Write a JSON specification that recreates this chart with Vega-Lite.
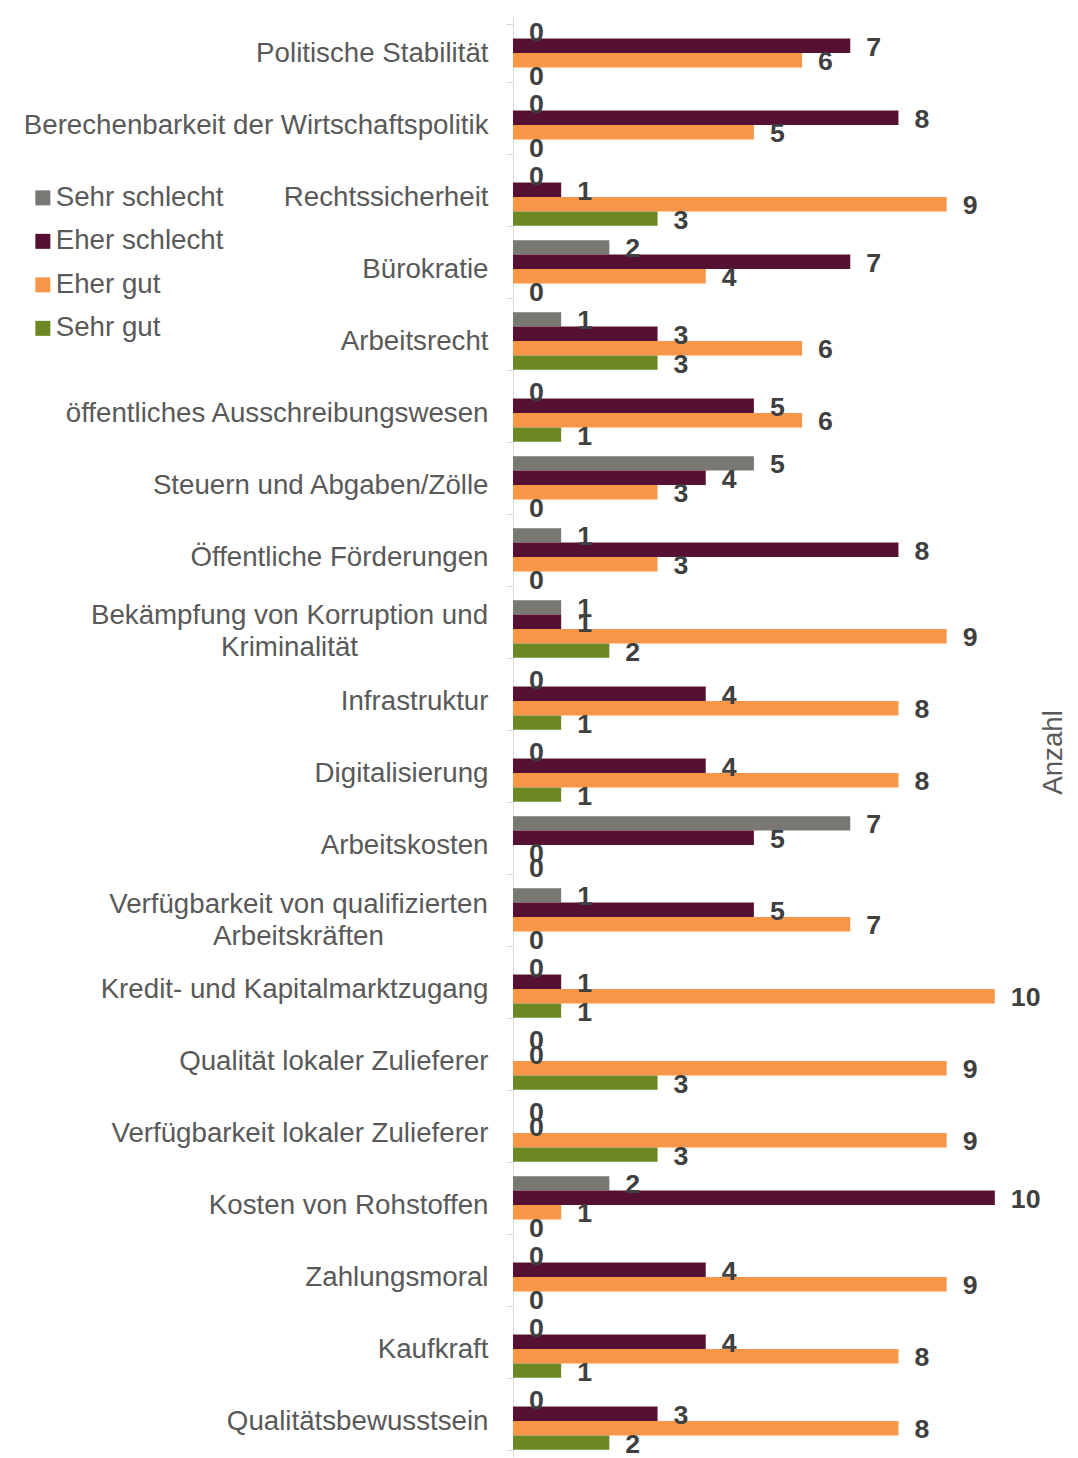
{
  "$schema": "https://vega.github.io/schema/vega-lite/v6.json",
  "width": 530,
  "height": 1440,
  "autosize": {"type": "none"},
  "padding": {"left": 513, "top": 17, "right": 35, "bottom": 1},
  "background": "white",
  "config": {"view": {"stroke": null}, "font": "Liberation Sans"},
  "datasets": {
    "werte": [
      {"Kategorie": "Politische Stabilität", "Bewertung": "Sehr schlecht", "Anzahl": 0},
      {"Kategorie": "Politische Stabilität", "Bewertung": "Eher schlecht", "Anzahl": 7},
      {"Kategorie": "Politische Stabilität", "Bewertung": "Eher gut", "Anzahl": 6},
      {"Kategorie": "Politische Stabilität", "Bewertung": "Sehr gut", "Anzahl": 0},
      {"Kategorie": "Berechenbarkeit der Wirtschaftspolitik", "Bewertung": "Sehr schlecht", "Anzahl": 0},
      {"Kategorie": "Berechenbarkeit der Wirtschaftspolitik", "Bewertung": "Eher schlecht", "Anzahl": 8},
      {"Kategorie": "Berechenbarkeit der Wirtschaftspolitik", "Bewertung": "Eher gut", "Anzahl": 5},
      {"Kategorie": "Berechenbarkeit der Wirtschaftspolitik", "Bewertung": "Sehr gut", "Anzahl": 0},
      {"Kategorie": "Rechtssicherheit", "Bewertung": "Sehr schlecht", "Anzahl": 0},
      {"Kategorie": "Rechtssicherheit", "Bewertung": "Eher schlecht", "Anzahl": 1},
      {"Kategorie": "Rechtssicherheit", "Bewertung": "Eher gut", "Anzahl": 9},
      {"Kategorie": "Rechtssicherheit", "Bewertung": "Sehr gut", "Anzahl": 3},
      {"Kategorie": "Bürokratie", "Bewertung": "Sehr schlecht", "Anzahl": 2},
      {"Kategorie": "Bürokratie", "Bewertung": "Eher schlecht", "Anzahl": 7},
      {"Kategorie": "Bürokratie", "Bewertung": "Eher gut", "Anzahl": 4},
      {"Kategorie": "Bürokratie", "Bewertung": "Sehr gut", "Anzahl": 0},
      {"Kategorie": "Arbeitsrecht", "Bewertung": "Sehr schlecht", "Anzahl": 1},
      {"Kategorie": "Arbeitsrecht", "Bewertung": "Eher schlecht", "Anzahl": 3},
      {"Kategorie": "Arbeitsrecht", "Bewertung": "Eher gut", "Anzahl": 6},
      {"Kategorie": "Arbeitsrecht", "Bewertung": "Sehr gut", "Anzahl": 3},
      {"Kategorie": "öffentliches Ausschreibungswesen", "Bewertung": "Sehr schlecht", "Anzahl": 0},
      {"Kategorie": "öffentliches Ausschreibungswesen", "Bewertung": "Eher schlecht", "Anzahl": 5},
      {"Kategorie": "öffentliches Ausschreibungswesen", "Bewertung": "Eher gut", "Anzahl": 6},
      {"Kategorie": "öffentliches Ausschreibungswesen", "Bewertung": "Sehr gut", "Anzahl": 1},
      {"Kategorie": "Steuern und Abgaben/Zölle", "Bewertung": "Sehr schlecht", "Anzahl": 5},
      {"Kategorie": "Steuern und Abgaben/Zölle", "Bewertung": "Eher schlecht", "Anzahl": 4},
      {"Kategorie": "Steuern und Abgaben/Zölle", "Bewertung": "Eher gut", "Anzahl": 3},
      {"Kategorie": "Steuern und Abgaben/Zölle", "Bewertung": "Sehr gut", "Anzahl": 0},
      {"Kategorie": "Öffentliche Förderungen", "Bewertung": "Sehr schlecht", "Anzahl": 1},
      {"Kategorie": "Öffentliche Förderungen", "Bewertung": "Eher schlecht", "Anzahl": 8},
      {"Kategorie": "Öffentliche Förderungen", "Bewertung": "Eher gut", "Anzahl": 3},
      {"Kategorie": "Öffentliche Förderungen", "Bewertung": "Sehr gut", "Anzahl": 0},
      {"Kategorie": "Bekämpfung von Korruption und Kriminalität", "Bewertung": "Sehr schlecht", "Anzahl": 1},
      {"Kategorie": "Bekämpfung von Korruption und Kriminalität", "Bewertung": "Eher schlecht", "Anzahl": 1},
      {"Kategorie": "Bekämpfung von Korruption und Kriminalität", "Bewertung": "Eher gut", "Anzahl": 9},
      {"Kategorie": "Bekämpfung von Korruption und Kriminalität", "Bewertung": "Sehr gut", "Anzahl": 2},
      {"Kategorie": "Infrastruktur", "Bewertung": "Sehr schlecht", "Anzahl": 0},
      {"Kategorie": "Infrastruktur", "Bewertung": "Eher schlecht", "Anzahl": 4},
      {"Kategorie": "Infrastruktur", "Bewertung": "Eher gut", "Anzahl": 8},
      {"Kategorie": "Infrastruktur", "Bewertung": "Sehr gut", "Anzahl": 1},
      {"Kategorie": "Digitalisierung", "Bewertung": "Sehr schlecht", "Anzahl": 0},
      {"Kategorie": "Digitalisierung", "Bewertung": "Eher schlecht", "Anzahl": 4},
      {"Kategorie": "Digitalisierung", "Bewertung": "Eher gut", "Anzahl": 8},
      {"Kategorie": "Digitalisierung", "Bewertung": "Sehr gut", "Anzahl": 1},
      {"Kategorie": "Arbeitskosten", "Bewertung": "Sehr schlecht", "Anzahl": 7},
      {"Kategorie": "Arbeitskosten", "Bewertung": "Eher schlecht", "Anzahl": 5},
      {"Kategorie": "Arbeitskosten", "Bewertung": "Eher gut", "Anzahl": 0},
      {"Kategorie": "Arbeitskosten", "Bewertung": "Sehr gut", "Anzahl": 0},
      {"Kategorie": "Verfügbarkeit von qualifizierten Arbeitskräften", "Bewertung": "Sehr schlecht", "Anzahl": 1},
      {"Kategorie": "Verfügbarkeit von qualifizierten Arbeitskräften", "Bewertung": "Eher schlecht", "Anzahl": 5},
      {"Kategorie": "Verfügbarkeit von qualifizierten Arbeitskräften", "Bewertung": "Eher gut", "Anzahl": 7},
      {"Kategorie": "Verfügbarkeit von qualifizierten Arbeitskräften", "Bewertung": "Sehr gut", "Anzahl": 0},
      {"Kategorie": "Kredit- und Kapitalmarktzugang", "Bewertung": "Sehr schlecht", "Anzahl": 0},
      {"Kategorie": "Kredit- und Kapitalmarktzugang", "Bewertung": "Eher schlecht", "Anzahl": 1},
      {"Kategorie": "Kredit- und Kapitalmarktzugang", "Bewertung": "Eher gut", "Anzahl": 10},
      {"Kategorie": "Kredit- und Kapitalmarktzugang", "Bewertung": "Sehr gut", "Anzahl": 1},
      {"Kategorie": "Qualität lokaler Zulieferer", "Bewertung": "Sehr schlecht", "Anzahl": 0},
      {"Kategorie": "Qualität lokaler Zulieferer", "Bewertung": "Eher schlecht", "Anzahl": 0},
      {"Kategorie": "Qualität lokaler Zulieferer", "Bewertung": "Eher gut", "Anzahl": 9},
      {"Kategorie": "Qualität lokaler Zulieferer", "Bewertung": "Sehr gut", "Anzahl": 3},
      {"Kategorie": "Verfügbarkeit lokaler Zulieferer", "Bewertung": "Sehr schlecht", "Anzahl": 0},
      {"Kategorie": "Verfügbarkeit lokaler Zulieferer", "Bewertung": "Eher schlecht", "Anzahl": 0},
      {"Kategorie": "Verfügbarkeit lokaler Zulieferer", "Bewertung": "Eher gut", "Anzahl": 9},
      {"Kategorie": "Verfügbarkeit lokaler Zulieferer", "Bewertung": "Sehr gut", "Anzahl": 3},
      {"Kategorie": "Kosten von Rohstoffen", "Bewertung": "Sehr schlecht", "Anzahl": 2},
      {"Kategorie": "Kosten von Rohstoffen", "Bewertung": "Eher schlecht", "Anzahl": 10},
      {"Kategorie": "Kosten von Rohstoffen", "Bewertung": "Eher gut", "Anzahl": 1},
      {"Kategorie": "Kosten von Rohstoffen", "Bewertung": "Sehr gut", "Anzahl": 0},
      {"Kategorie": "Zahlungsmoral", "Bewertung": "Sehr schlecht", "Anzahl": 0},
      {"Kategorie": "Zahlungsmoral", "Bewertung": "Eher schlecht", "Anzahl": 4},
      {"Kategorie": "Zahlungsmoral", "Bewertung": "Eher gut", "Anzahl": 9},
      {"Kategorie": "Zahlungsmoral", "Bewertung": "Sehr gut", "Anzahl": 0},
      {"Kategorie": "Kaufkraft", "Bewertung": "Sehr schlecht", "Anzahl": 0},
      {"Kategorie": "Kaufkraft", "Bewertung": "Eher schlecht", "Anzahl": 4},
      {"Kategorie": "Kaufkraft", "Bewertung": "Eher gut", "Anzahl": 8},
      {"Kategorie": "Kaufkraft", "Bewertung": "Sehr gut", "Anzahl": 1},
      {"Kategorie": "Qualitätsbewusstsein", "Bewertung": "Sehr schlecht", "Anzahl": 0},
      {"Kategorie": "Qualitätsbewusstsein", "Bewertung": "Eher schlecht", "Anzahl": 3},
      {"Kategorie": "Qualitätsbewusstsein", "Bewertung": "Eher gut", "Anzahl": 8},
      {"Kategorie": "Qualitätsbewusstsein", "Bewertung": "Sehr gut", "Anzahl": 2}
    ]
  },
  "data": {"name": "werte"},
  "layer": [
    {
      "mark": {"type": "bar"},
      "encoding": {
        "y": {
          "field": "Kategorie",
          "type": "nominal",
          "sort": null,
          "scale": {"paddingInner": 0.2, "paddingOuter": 0.1},
          "axis": {
            "title": null,
            "orient": "left",
            "domainColor": "#d9d9d9",
            "domainWidth": 1,
            "tickColor": "#d9d9d9",
            "tickSize": 7,
            "tickBand": "extent",
            "labelFont": "Liberation Sans",
            "labelFontSize": 27.7,
            "labelColor": "#595959",
            "labelLimit": 700,
            "labelLineHeight": 32,
            "labelBaseline": "middle",
            "labelExpr": "datum.value == 'Bekämpfung von Korruption und Kriminalität' ? ['Bekämpfung von Korruption und', 'Kriminalität'] : datum.value == 'Verfügbarkeit von qualifizierten Arbeitskräften' ? ['Verfügbarkeit von qualifizierten', 'Arbeitskräften'] : datum.value",
            "labelAlign": {
              "condition": {"test": "datum.value == 'Bekämpfung von Korruption und Kriminalität' || datum.value == 'Verfügbarkeit von qualifizierten Arbeitskräften'", "value": "center"},
              "value": "right"
            },
            "labelOffset": {
              "condition": [
                {"test": "datum.value == 'Bekämpfung von Korruption und Kriminalität'", "value": -14},
                {"test": "datum.value == 'Verfügbarkeit von qualifizierten Arbeitskräften'", "value": -13}
              ],
              "value": 0
            },
            "labelPadding": {
              "condition": [
                {"test": "datum.value == 'Bekämpfung von Korruption und Kriminalität'", "value": 217},
                {"test": "datum.value == 'Verfügbarkeit von qualifizierten Arbeitskräften'", "value": 208}
              ],
              "value": 18
            }
          }
        },
        "yOffset": {
          "field": "Bewertung",
          "type": "nominal",
          "sort": ["Sehr schlecht", "Eher schlecht", "Eher gut", "Sehr gut"],
          "scale": {"paddingInner": 0, "paddingOuter": 0}
        },
        "x": {
          "field": "Anzahl",
          "type": "quantitative",
          "stack": null,
          "scale": {"domain": [0, 11]},
          "axis": null
        },
        "color": {
          "field": "Bewertung",
          "type": "nominal",
          "sort": ["Sehr schlecht", "Eher schlecht", "Eher gut", "Sehr gut"],
          "scale": {
            "domain": ["Sehr schlecht", "Eher schlecht", "Eher gut", "Sehr gut"],
            "range": ["#7a7872", "#561031", "#f79646", "#6b8823"]
          },
          "legend": {
            "title": null,
            "orient": "none",
            "legendX": -484,
            "legendY": 167,
            "padding": 0,
            "symbolType": "square",
            "symbolSize": 225,
            "symbolStrokeWidth": 0,
            "labelFont": "Liberation Sans",
            "labelFontSize": 27.7,
            "labelColor": "#595959",
            "labelOffset": -1,
            "labelLimit": 400,
            "rowPadding": 14.5
          }
        }
      }
    },
    {
      "mark": {"type": "text", "align": "left", "baseline": "middle", "dx": 16, "dy": 2, "font": "Liberation Sans", "fontSize": 26.7, "fontWeight": "bold", "color": "#404040"},
      "encoding": {
        "y": {
          "field": "Kategorie",
          "type": "nominal",
          "sort": null,
          "axis": {
            "orient": "right",
            "title": "Anzahl",
            "labels": false,
            "ticks": false,
            "domain": false,
            "titleFont": "Liberation Sans",
            "titleFontSize": 27.7,
            "titleFontWeight": "normal",
            "titleColor": "#595959",
            "titleAngle": 270,
            "titleAlign": "center",
            "titleBaseline": "middle",
            "titleX": 10,
            "titleY": 735
          }
        },
        "yOffset": {
          "field": "Bewertung",
          "type": "nominal",
          "sort": ["Sehr schlecht", "Eher schlecht", "Eher gut", "Sehr gut"]
        },
        "x": {"field": "Anzahl", "type": "quantitative", "stack": null},
        "text": {"field": "Anzahl", "type": "quantitative"}
      }
    }
  ],
  "resolve": {"axis": {"y": "independent"}}
}
